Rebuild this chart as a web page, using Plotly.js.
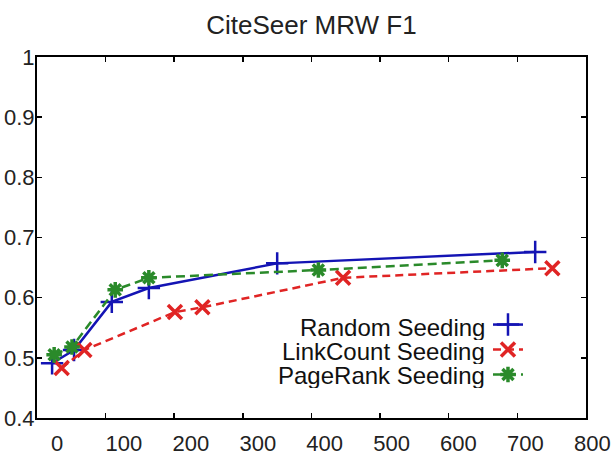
<!DOCTYPE html>
<html>
<head>
<meta charset="utf-8">
<script src="https://cdn.plot.ly/plotly-3.0.1.min.js"></script>
<style>html,body{margin:0;padding:0;background:#fff;}#chart{width:613px;height:457px;}</style>
</head>
<body>
<div id="chart"></div>
<script>
// ---- data ----
const chartTitle = 'CiteSeer MRW F1';
const seriesNames = ['Random Seeding', 'LinkCount Seeding', 'PageRank Seeding'];

const randomX = [22, 54, 109, 163, 350, 726];
const randomY = [0.491, 0.513, 0.593, 0.616, 0.657, 0.676];

const linkX = [36, 69, 201, 241, 446, 751];
const linkY = [0.483, 0.513, 0.576, 0.584, 0.633, 0.649];

const pageX = [25, 51, 114, 163, 410, 678];
const pageY = [0.505, 0.518, 0.613, 0.633, 0.646, 0.662];

const xTickVals = [0, 100, 200, 300, 400, 500, 600, 700, 800];
const xTickText = ['0', '100', '200', '300', '400', '500', '600', '700', '800'];
const yTickVals = [0.4, 0.5, 0.6, 0.7, 0.8, 0.9, 1];
const yTickText = ['0.4', '0.5', '0.6', '0.7', '0.8', '0.9', '1'];

// ---- styles ----
const colors = ['#1414b4', '#e02424', '#2a8a2a'];
const FONT = 'Arial, "Liberation Sans", sans-serif';

const traces = [
  {x: randomX, y: randomY, name: seriesNames[0], legendgroup: 'g0', type: 'scatter', mode: 'lines+markers',
   line: {color: colors[0], width: 2.5},
   marker: {symbol: 'cross-thin-open', size: 16, line: {color: colors[0], width: 2.5}}},
  {x: linkX, y: linkY, name: seriesNames[1], legendgroup: 'g1', type: 'scatter', mode: 'lines+markers',
   line: {color: colors[1], width: 2.5, dash: '8px,5px'},
   marker: {symbol: 'x-thin-open', size: 14, line: {color: colors[1], width: 3.5}}},
  {x: pageX, y: pageY, name: seriesNames[2], legendgroup: 'g2', type: 'scatter', mode: 'lines+markers',
   line: {color: colors[2], width: 2.5, dash: '9px,5px'},
   marker: {symbol: 'asterisk-open', size: 13, line: {color: colors[2], width: 3.5}}},
  // empty trace so the tick-label axis (x2) gets drawn
  {x: [], y: [], xaxis: 'x2', yaxis: 'y', type: 'scatter', mode: 'markers',
   showlegend: false, hoverinfo: 'skip'}
];

const rowY = [0.252, 0.183, 0.119];
const annotations = seriesNames.map((n, i) => ({
  text: n, xref: 'paper', yref: 'paper', x: 0.792, y: rowY[i],
  xanchor: 'right', yanchor: 'middle', showarrow: false, height: 25,
  font: {family: FONT, size: 24, color: '#111'}
}));

const layout = {
  width: 613, height: 457,
  margin: {l: 37, r: 8, t: 57, b: 39, autoexpand: false},
  paper_bgcolor: '#fff', plot_bgcolor: 'rgba(0,0,0,0)',
  title: {text: chartTitle, font: {family: FONT, size: 26, color: '#222'},
          x: 0.508, xanchor: 'center', y: 0.945, yanchor: 'middle'},
  showlegend: true,
  legend: {x: 0.794, xanchor: 'left', y: 0.299, yanchor: 'top',
           bgcolor: 'rgba(0,0,0,0)', borderwidth: 0, tracegroupgap: 6,
           font: {family: FONT, size: 1, color: 'rgba(0,0,0,0)'}},
  xaxis: {domain: [0, 0.9665], range: [0, 800], anchor: 'y',
          showline: true, linecolor: '#000', linewidth: 2, mirror: 'ticks',
          ticks: 'inside', ticklen: 5, tickwidth: 1.5, tickcolor: '#000',
          tickvals: xTickVals, showticklabels: false,
          showgrid: false, zeroline: false},
  xaxis2: {domain: [0, 1], range: [-30, 819], anchor: 'y',
           showline: false, ticks: '', tickvals: xTickVals, ticktext: xTickText,
           showgrid: false, zeroline: false, ticklabelstandoff: 10,
           tickfont: {family: FONT, size: 22, color: '#222'}},
  yaxis: {range: [0.4, 1], anchor: 'x',
          showline: true, linecolor: '#000', linewidth: 2, mirror: 'ticks',
          ticks: 'inside', ticklen: 5, tickwidth: 1.5, tickcolor: '#000',
          tickvals: yTickVals, ticktext: yTickText, ticklabelstandoff: -4,
          showgrid: false, zeroline: false,
          tickfont: {family: FONT, size: 22, color: '#222'}},
  annotations: annotations
};

Plotly.newPlot('chart', traces, layout, {displayModeBar: false, staticPlot: true});
</script>
</body>
</html>
